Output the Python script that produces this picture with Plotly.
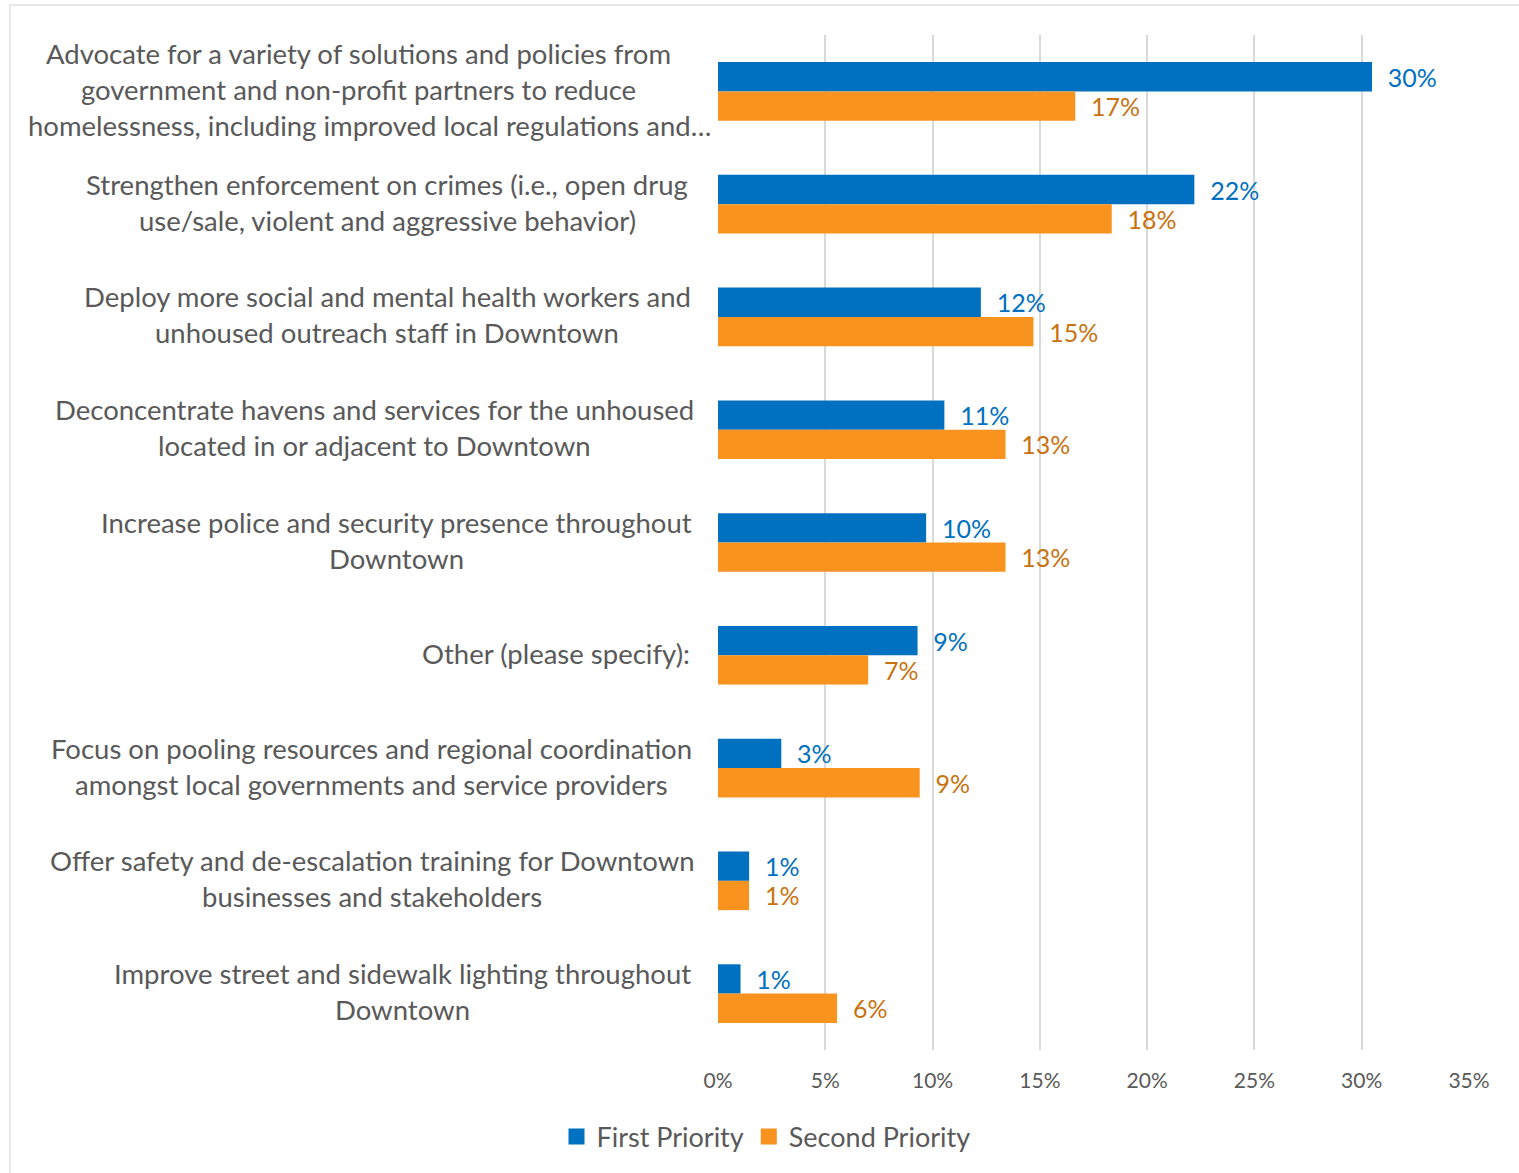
import plotly.graph_objects as go

# Survey responses: share choosing each action as first / second priority
categories = [
    "Advocate",
    "Strengthen enforcement",
    "Deploy workers",
    "Deconcentrate havens",
    "Increase police",
    "Other",
    "Focus on pooling",
    "Offer training",
    "Improve lighting",
]
category_lines = [
    ["Advocate for a variety of solutions and policies from",
     "government and non-profit partners to reduce",
     "homelessness, including improved local regulations and\u2026"],
    ["Strengthen enforcement on crimes (i.e., open drug",
     "use/sale, violent and aggressive behavior)"],
    ["Deploy more social and mental health workers and",
     "unhoused outreach staff in Downtown"],
    ["Deconcentrate havens and services for the unhoused",
     "located in or adjacent to Downtown"],
    ["Increase police and security presence throughout",
     "Downtown"],
    ["Other (please specify):"],
    ["Focus on pooling resources and regional coordination",
     "amongst local governments and service providers"],
    ["Offer safety and de-escalation training for Downtown",
     "businesses and stakeholders"],
    ["Improve street and sidewalk lighting throughout",
     "Downtown"],
]
first_priority = [0.3048, 0.222, 0.1225, 0.1055, 0.097, 0.093, 0.0295, 0.0145, 0.0105]
second_priority = [0.1665, 0.1835, 0.147, 0.134, 0.134, 0.070, 0.094, 0.0145, 0.0555]
x_ticks = [0, 0.05, 0.10, 0.15, 0.20, 0.25, 0.30, 0.35]
series_names = ["First Priority", "Second Priority"]

# horizontal centre (in pixels) of each wrapped label block
label_centres = [[358, 358, 369], [387, 387], [387, 387], [374, 374], [396, 396],
                 [556], [371, 371], [372, 372], [402, 402]]

W, H = 1519, 1173
L, R, T, B = 718, 50, 35, 123
PW, PH = W - L - R, H - T - B

BLUE = "#0070C0"
ORANGE = "#F7931E"
ORANGE_TEXT = "#C8720F"
GREY_TEXT = "#595959"
FONT = "Lato"
PAD = "\u00a0\u00a0"

fig = go.Figure()
for name, vals, color, tcolor in [
    (series_names[0], first_priority, BLUE, BLUE),
    (series_names[1], second_priority, ORANGE, ORANGE_TEXT),
]:
    fig.add_trace(go.Bar(
        name=name, y=categories, x=vals, orientation="h",
        marker=dict(color=color, line=dict(width=0)),
        texttemplate=PAD + "%{x:.0%}", textposition="outside",
        textfont=dict(color=tcolor, size=25, family=FONT),
        cliponaxis=False, constraintext="none", hoverinfo="skip",
        showlegend=False,
    ))

# legend entries with larger square swatches
for name, color in zip(series_names, [BLUE, ORANGE]):
    fig.add_trace(go.Scatter(
        name=name, x=[None], y=[None], mode="markers",
        marker=dict(symbol="square", size=16, color=color),
        hoverinfo="skip",
    ))

# wrapped category labels, one annotation per line
annotations = []
for cat, lines, centres in zip(categories, category_lines, label_centres):
    n = len(lines)
    for j, (txt, cx) in enumerate(zip(lines, centres)):
        annotations.append(dict(
            x=(cx - L) / PW, xref="paper", y=cat, yref="y",
            text=txt, showarrow=False, xanchor="center", yanchor="middle",
            yshift=((n - 1) / 2 - j) * 36 + 2,
            font=dict(family=FONT, size=27.5, color=GREY_TEXT),
        ))

fig.update_layout(
    width=W, height=H,
    margin=dict(l=L, r=R, t=T, b=B, pad=0),
    paper_bgcolor="white", plot_bgcolor="white",
    barmode="group", bargap=0.48, bargroupgap=0,
    font=dict(family=FONT, color=GREY_TEXT),
    xaxis=dict(
        range=[0, 0.35], tickvals=x_ticks, tickformat=".0%",
        showgrid=True, gridcolor="#D9D9D9", gridwidth=2,
        zeroline=False, showline=False, ticks="",
        tickfont=dict(size=21, color=GREY_TEXT, family=FONT),
        ticklabelstandoff=16,
    ),
    yaxis=dict(
        autorange="reversed", showticklabels=False, showgrid=False,
        zeroline=False, showline=False, ticks="",
    ),
    legend=dict(
        orientation="h", x=(766 - L) / PW, xanchor="center",
        y=(PH - (1137 - T)) / PH, yanchor="middle",
        font=dict(size=27, color=GREY_TEXT, family=FONT),
        itemwidth=30, traceorder="normal",
    ),
    annotations=annotations,
    shapes=[dict(
        type="rect", xref="paper", yref="paper",
        x0=(10 - L) / PW, x1=(1530 - L) / PW,
        y0=(PH - (1190 - T)) / PH, y1=(PH - (5 - T)) / PH,
        line=dict(color="#E8E8E8", width=2), fillcolor="rgba(0,0,0,0)",
        layer="below",
    )],
)

fig.write_html("out.html", config={"displayModeBar": False})
